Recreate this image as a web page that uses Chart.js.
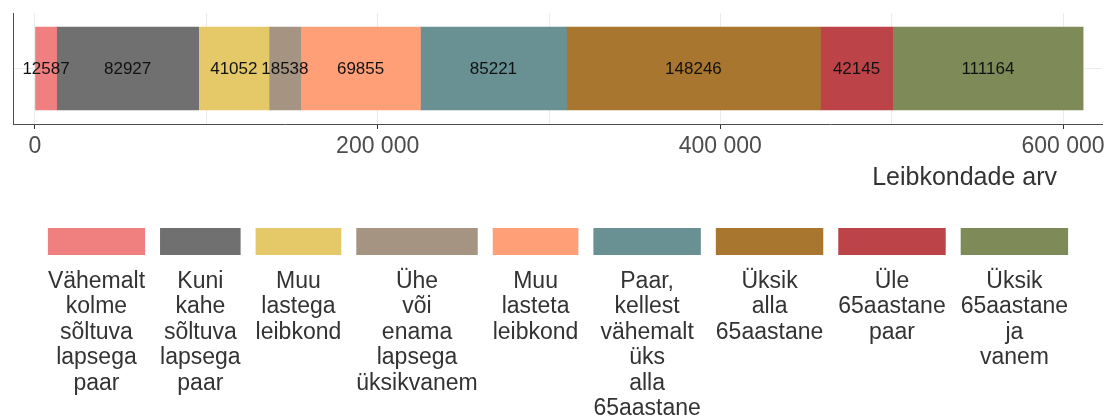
<!DOCTYPE html>
<html>
<head>
<meta charset="utf-8">
<script src="https://cdn.jsdelivr.net/npm/chart.js@4"></script>
<style>
  html, body { margin: 0; padding: 0; background: #fff; }
</style>
</head>
<body>
<canvas id="chHouseholds" width="1116" height="419"></canvas>
<script>
// leibkonnatüübid ja nende arv
const householdTypes = [
  'Vähemalt kolme sõltuva lapsega paar',
  'Kuni kahe sõltuva lapsega paar',
  'Muu lastega leibkond',
  'Ühe või enama lapsega üksikvanem',
  'Muu lasteta leibkond',
  'Paar, kellest vähemalt üks alla 65aastane',
  'Üksik alla 65aastane',
  'Üle 65aastane paar',
  'Üksik 65aastane ja vanem'
];
const householdCounts = [12587, 82927, 41052, 18538, 69855, 85221, 148246, 42145, 111164];
const householdColors = ['#F08080', '#707070', '#E5C867', '#A69483', '#FE9F78', '#699092', '#A8762F', '#BC4448', '#7E8A58'];

const gridValues = [0, 100000, 200000, 300000, 400000, 500000, 600000];
const labelledTicks = [0, 200000, 400000, 600000];
const axisTitle = 'Leibkondade arv';

const FONT = '"Liberation Sans", Arial, sans-serif';

function fmt(v) {
  return String(v).replace(/\B(?=(\d{3})+(?!\d))/g, ' ');
}

// numbrid lõikude keskele
const segmentLabels = {
  id: 'segmentLabels',
  afterDatasetsDraw(chart) {
    const ctx = chart.ctx;
    ctx.save();
    ctx.font = '17px ' + FONT;
    ctx.fillStyle = '#111111';
    ctx.textAlign = 'center';
    ctx.textBaseline = 'middle';
    chart.data.datasets.forEach((ds, i) => {
      const bar = chart.getDatasetMeta(i).data[0];
      ctx.fillText(ds.data[0], (bar.base + bar.x) / 2, bar.y + 1);
    });
    ctx.restore();
  }
};

// legend all, sõnad eraldi ridadel + telje pealkiri
const wrappedLegend = {
  id: 'wrappedLegend',
  afterDraw(chart) {
    const ctx = chart.ctx;
    ctx.save();

    ctx.font = '25px ' + FONT;
    ctx.fillStyle = '#333333';
    ctx.textAlign = 'right';
    ctx.textBaseline = 'alphabetic';
    ctx.fillText(axisTitle, 1057, 185);

    ctx.font = '23px ' + FONT;
    const items = chart.data.datasets.map(ds => {
      const words = ds.label.split(' ');
      const w = Math.max(...words.map(t => ctx.measureText(t).width));
      return { words: words, w: w, color: ds.backgroundColor };
    });
    const gap = 15;
    const total = items.reduce((s, it) => s + it.w, 0) + gap * (items.length - 1);
    let x = (chart.width - total) / 2;
    ctx.textAlign = 'center';
    items.forEach(it => {
      ctx.fillStyle = it.color;
      ctx.fillRect(x, 228, it.w, 27);
      ctx.fillStyle = '#333333';
      it.words.forEach((t, k) => ctx.fillText(t, x + it.w / 2, 288 + k * 25.4));
      x += it.w + gap;
    });
    ctx.restore();
  }
};

const datasets = householdTypes.map((name, i) => ({
  label: name,
  data: [householdCounts[i]],
  backgroundColor: householdColors[i],
  borderWidth: 0,
  barThickness: 83
}));

new Chart(document.getElementById('chHouseholds'), {
  type: 'bar',
  data: { labels: [''], datasets: datasets },
  options: {
    indexAxis: 'y',
    responsive: false,
    animation: false,
    layout: { padding: { top: 13, right: 14, left: 0, bottom: 0 } },
    plugins: {
      legend: { display: false },
      tooltip: { enabled: false }
    },
    scales: {
      x: {
        stacked: true,
        min: -12840,
        max: 622760,
        afterBuildTicks(scale) {
          scale.ticks = gridValues.map(v => ({ value: v }));
        },
        afterFit(scale) {
          scale.height = 295;
          scale.paddingLeft = 0;
          scale.paddingRight = 0;
        },
        grid: {
          color: '#EBEBEB',
          lineWidth: 1,
          tickLength: 5,
          tickColor: ctx => labelledTicks.includes(ctx.tick && ctx.tick.value) ? '#333333' : 'rgba(0,0,0,0)'
        },
        border: { color: '#4D4D4D', width: 1 },
        ticks: {
          autoSkip: false,
          maxRotation: 0,
          padding: 4,
          color: '#4D4D4D',
          font: { family: FONT, size: 23 },
          callback: v => labelledTicks.includes(v) ? fmt(v) : ''
        }
      },
      y: {
        stacked: true,
        afterFit(scale) {
          scale.width = 13;
        },
        grid: {
          offset: false,
          color: '#EBEBEB',
          drawTicks: false
        },
        border: { color: '#4D4D4D', width: 1 },
        ticks: { display: false }
      }
    }
  },
  plugins: [segmentLabels, wrappedLegend]
});
</script>
</body>
</html>
